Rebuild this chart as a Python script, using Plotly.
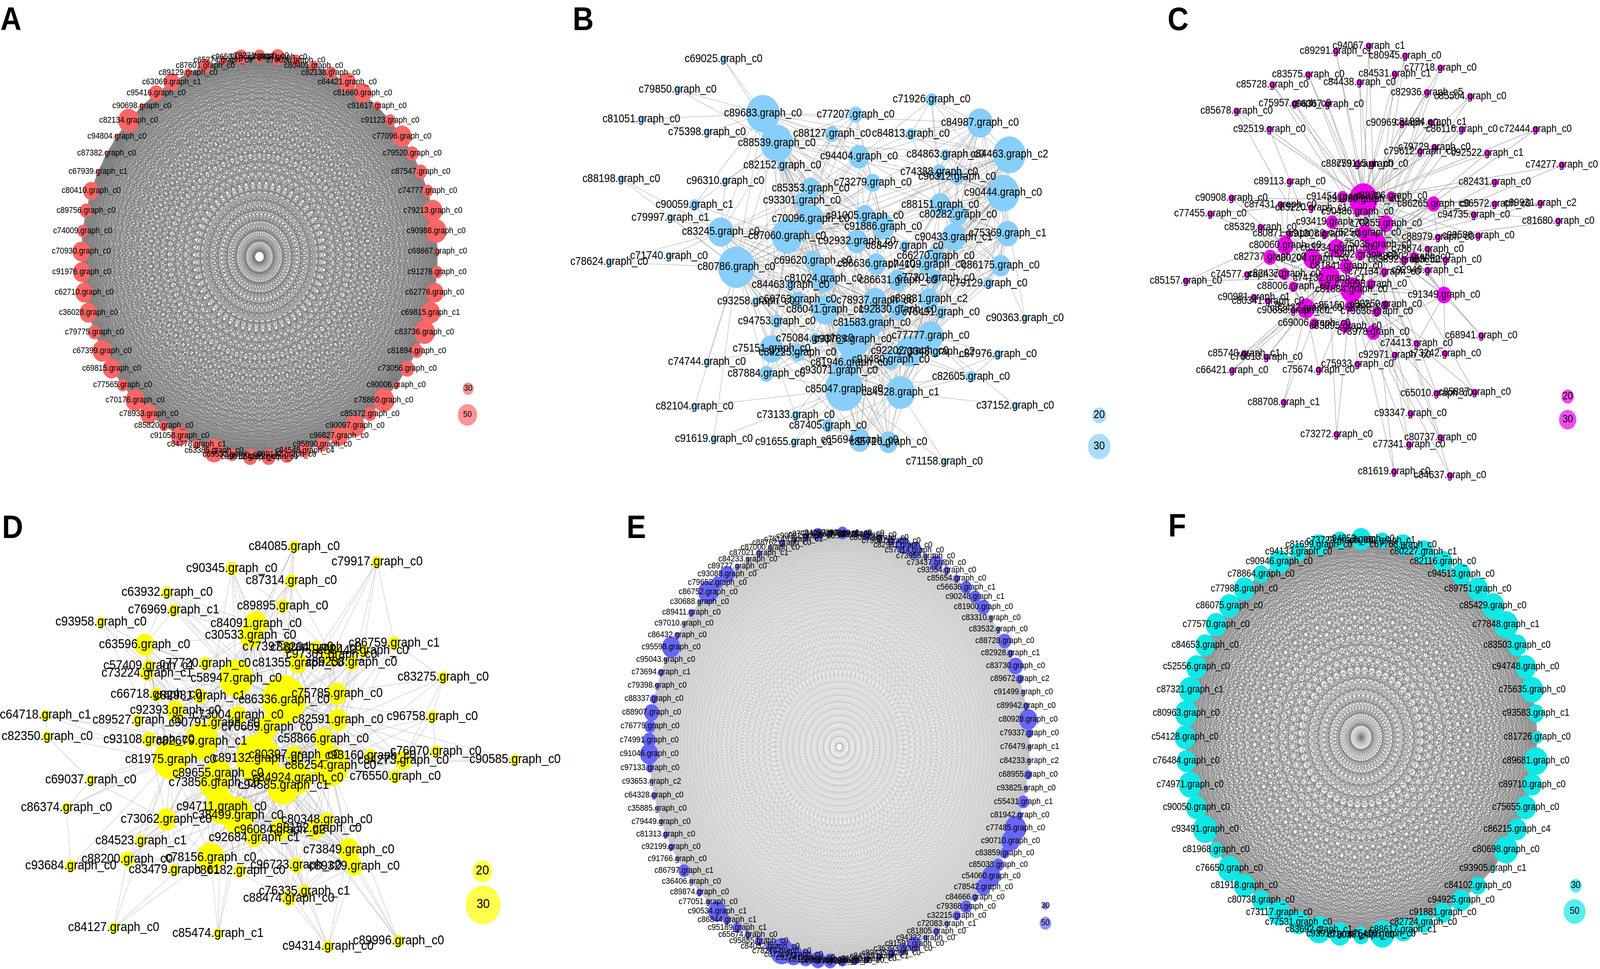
import math
import plotly.graph_objects as go

W, H = 4607, 2480
ZOOM = 1568.0

# ====================== DATA ======================
# Panel A: circular layout, clockwise from 12 o'clock
A_labels = ["c79271.graph_c0", "c73803.graph_c0", "c78026.graph_c0", "c80401.graph_c0", "c82138.graph_c0",
            "c64421.graph_c0", "c81660.graph_c0", "c91617.graph_c0", "c91123.graph_c0", "c77096.graph_c0",
            "c79520.graph_c0", "c87547.graph_c0", "c74777.graph_c0", "c79213.graph_c0", "c90988.graph_c0",
            "c68667.graph_c0", "c91276.graph_c0", "c62776.graph_c0", "c69815.graph_c1", "c83736.graph_c0",
            "c81894.graph_c0", "c73056.graph_c0", "c90006.graph_c0", "c78860.graph_c0", "c85372.graph_c0",
            "c90097.graph_c0", "c96827.graph_c0", "c95890.graph_c0", "c84548.graph_c4", "c89147.graph_c0",
            "c84201.graph_c0", "c89812.graph_c0", "c65532.graph_c0", "c63386.graph_c0", "c84778.graph_c1",
            "c91058.graph_c0", "c85820.graph_c0", "c78933.graph_c0", "c70176.graph_c0", "c77565.graph_c0",
            "c69815.graph_c0", "c67399.graph_c0", "c79775.graph_c0", "c36028.graph_c0", "c62710.graph_c0",
            "c91976.graph_c0", "c70930.graph_c0", "c74009.graph_c0", "c89756.graph_c0", "c80410.graph_c0",
            "c67939.graph_c1", "c87382.graph_c0", "c94804.graph_c0", "c82134.graph_c0", "c90698.graph_c0",
            "c95416.graph_c0", "c63069.graph_c1", "c89129.graph_c0", "c87601.graph_c0", "c65274.graph_c0",
            "c96508.graph_c0"]
A_degree = [32, 38, 29, 26, 31, 45, 46, 23, 30, 50, 34, 34, 30, 50, 54, 15, 30, 46, 50, 54,
            34, 38, 19, 54, 34, 50, 46, 34, 34, 38, 38, 38, 30, 54, 23, 46, 26, 46, 50, 30,
            46, 50, 34, 46, 46, 46, 46, 30, 34, 42, 15, 12, 15, 54, 15, 38, 42, 23, 34, 23, 36]

# Panel B: force layout (x, y)
B_labels = ["c69025.graph_c0", "c79850.graph_c0", "c81051.graph_c0", "c75398.graph_c0", "c89683.graph_c0",
            "c88539.graph_c0", "c77207.graph_c0", "c88127.graph_c0", "c84813.graph_c0", "c71926.graph_c0",
            "c84987.graph_c0", "c84463.graph_c2", "c84863.graph_c0", "c94404.graph_c0", "c82152.graph_c0",
            "c88198.graph_c0", "c96310.graph_c0", "c74388.graph_c0", "c96312.graph_c0", "c73279.graph_c0",
            "c85353.graph_c0", "c90444.graph_c0", "c90059.graph_c1", "c93301.graph_c0", "c88151.graph_c0",
            "c80282.graph_c0", "c79997.graph_c1", "c70096.graph_c0", "c91005.graph_c0", "c91886.graph_c0",
            "c83245.graph_c0", "c87060.graph_c0", "c92932.graph_c0", "c90433.graph_c1", "c75369.graph_c1",
            "c88497.graph_c0", "c71740.graph_c0", "c78624.graph_c0", "c80786.graph_c0", "c69620.graph_c0",
            "c86636.graph_c0", "c74109.graph_c0", "c66270.graph_c0", "c86175.graph_c0", "c81024.graph_c0",
            "c84463.graph_c0", "c86631.graph_c0", "c77201.graph_c0", "c79129.graph_c0", "c93258.graph_c0",
            "c66763.graph_c0", "c78937.graph_c0", "c89831.graph_c2", "c86041.graph_c1", "c92830.graph_c0",
            "c76491.graph_c0", "c90363.graph_c0", "c94753.graph_c0", "c81583.graph_c0", "c77777.graph_c0",
            "c75084.graph_c0", "c93789.graph_c0", "c75151.graph_c0", "c89225.graph_c0", "c92202.graph_c0",
            "c87976.graph_c0", "c73348.graph_c2", "c81946.graph_c0", "c91480.graph_c0", "c74744.graph_c0",
            "c87884.graph_c0", "c93071.graph_c0", "c82605.graph_c0", "c85047.graph_c0", "c84528.graph_c1",
            "c82104.graph_c0", "c37152.graph_c0", "c73133.graph_c0", "c87405.graph_c0", "c91619.graph_c0",
            "c91655.graph_c1", "c65694.graph_c0", "c85716.graph_c0", "c71158.graph_c0"]
B_x = [506, 373, 268, 458, 620, 660, 888, 820, 1048, 1108, 1248, 1333, 1148, 898, 676, 210, 511, 1130, 1182, 938,
       758, 1315, 422, 733, 1133, 1185, 352, 758, 915, 968, 498, 690, 892, 1172, 1328, 1030, 348, 175, 543, 765,
       948, 1095, 1120, 1308, 795, 700, 1010, 1120, 1273, 600, 720, 945, 1100, 800, 1010, 1135, 1378, 660, 935, 1105,
       770, 880, 645, 720, 1045, 1300, 1120, 870, 990, 458, 630, 840, 1222, 855, 1018, 422, 1350, 715, 808, 478,
       710, 900, 983, 1145]
B_y = [190, 288, 383, 425, 365, 460, 368, 430, 430, 320, 395, 497, 497, 503, 532, 575, 582, 553, 568, 587,
       605, 620, 658, 645, 658, 690, 700, 703, 693, 728, 745, 758, 775, 762, 750, 790, 822, 842, 858, 838,
       848, 850, 822, 853, 895, 915, 900, 893, 910, 968, 962, 965, 960, 995, 995, 1003, 1022, 1032, 1037, 1078,
       1087, 1090, 1120, 1132, 1128, 1138, 1130, 1165, 1155, 1163, 1200, 1190, 1210, 1250, 1260, 1305, 1303, 1333, 1367, 1410,
       1420, 1413, 1420, 1483]
B_degree = [11, 11, 11, 11, 43, 42, 20, 20, 15, 17, 34, 42, 15, 28, 15, 11, 11, 20, 20, 22,
            26, 42, 15, 20, 28, 26, 11, 34, 26, 30, 34, 40, 28, 32, 30, 15, 11, 11, 47, 24,
            26, 24, 24, 26, 32, 15, 26, 20, 15, 13, 20, 30, 26, 34, 26, 17, 11, 17, 32, 34,
            15, 44, 32, 22, 36, 13, 15, 28, 24, 11, 20, 24, 15, 49, 38, 11, 11, 13, 17, 11,
            11, 28, 26, 11]

# Panel C: force layout
C_labels = ["c94067.graph_c1", "c89291.graph_c1", "c80945.graph_c0", "c77718.graph_c0", "c83575.graph_c0",
            "c84531.graph_c1", "c85728.graph_c0", "c84438.graph_c0", "c82936.graph_c5", "c85504.graph_c0",
            "c75957.graph_c0", "c96367.graph_c0", "c85678.graph_c0", "c90969.graph_c0", "c81884.graph_c1",
            "c86116.graph_c0", "c72444.graph_c0", "c92519.graph_c0", "c79729.graph_c0", "c79612.graph_c0",
            "c92522.graph_c1", "c88759.graph_c0", "c79115.graph_c0", "c74277.graph_c0", "c89113.graph_c0",
            "c82431.graph_c0", "c90908.graph_c0", "c91454.graph_c0", "c91980.graph_c0", "c88706.graph_c0",
            "c87431.graph_c0", "c85220.graph_c1", "c86265.graph_c0", "c96572.graph_c0", "c89931.graph_c2",
            "c90486.graph_c0", "c77455.graph_c0", "c94735.graph_c0", "c81680.graph_c0", "c93419.graph_c0",
            "c70855.graph_c0", "c85329.graph_c0", "c80871.graph_c0", "c91308.graph_c0", "c75256.graph_c0",
            "c88979.graph_c0", "c98586.graph_c0", "c80060.graph_c0", "c75035.graph_c0", "c83234.graph_c0",
            "c78674.graph_c0", "c82737.graph_c0", "c80204.graph_c0", "c75302.graph_c0", "c83892.graph_c0",
            "c93652.graph_c0", "c80002.graph_c0", "c81841.graph_c0", "c92946.graph_c1", "c77134.graph_c0",
            "c74577.graph_c0", "c82437.graph_c0", "c74132.graph_c1", "c85157.graph_c0", "c88006.graph_c0",
            "c79098.graph_c0", "c81884.graph_c0", "c90981.graph_c1", "c80341.graph_c0", "c91349.graph_c0",
            "c82432.graph_c0", "c85150.graph_c0", "c80250.graph_c0", "c90658.graph_c0", "c79636.graph_c0",
            "c69006.graph_c0", "c83895.graph_c0", "c73978.graph_c0", "c68941.graph_c0", "c74413.graph_c0",
            "c85740.graph_c1", "c76813.graph_c0", "c92971.graph_c0", "c73242.graph_c0", "c75933.graph_c0",
            "c66421.graph_c0", "c75674.graph_c0", "c65010.graph_c0", "c85887.graph_c0", "c88708.graph_c1",
            "c93347.graph_c0", "c73272.graph_c0", "c80737.graph_c0", "c77341.graph_c0", "c81619.graph_c0",
            "c84637.graph_c0"]
C_x = [793, 683, 915, 1033, 590, 880, 470, 762, 988, 1133, 545, 655, 350, 905, 1000, 1105, 1352, 460, 1013, 965,
       1190, 755, 805, 1440, 528, 1215, 333, 705, 775, 868, 497, 600, 1010, 1215, 1368, 755, 262, 1145, 1428, 670,
       850, 430, 525, 645, 780, 1025, 1160, 513, 815, 685, 990, 462, 603, 765, 912, 1050, 945, 718, 990, 845,
       385, 510, 660, 180, 540, 800, 735, 408, 455, 1045, 583, 730, 850, 540, 820, 610, 715, 808, 1170, 953,
       375, 450, 880, 1048, 755, 335, 625, 1020, 1148, 508, 933, 685, 1033, 928, 878, 1065]
C_y = [148, 165, 180, 218, 240, 238, 272, 265, 297, 310, 333, 335, 357, 396, 393, 416, 416, 415, 473, 487,
       492, 527, 527, 530, 583, 585, 636, 632, 640, 630, 657, 668, 655, 655, 653, 680, 687, 690, 710, 713,
       718, 730, 750, 752, 748, 762, 757, 788, 785, 797, 800, 826, 830, 818, 835, 835, 825, 855, 868, 873,
       882, 880, 893, 902, 920, 912, 930, 955, 967, 947, 990, 983, 978, 997, 1000, 1038, 1048, 1067, 1078, 1103,
       1135, 1147, 1140, 1135, 1170, 1190, 1188, 1263, 1260, 1292, 1328, 1395, 1405, 1428, 1515, 1527]
C_degree = [7, 7, 7, 7, 7, 7, 7, 7, 7, 7, 7, 7, 7, 7, 7, 7, 7, 7, 7, 7,
            7, 7, 7, 7, 7, 7, 7, 16, 53, 13, 7, 7, 22, 7, 7, 10, 7, 7, 7, 19,
            25, 7, 7, 10, 25, 7, 7, 28, 40, 28, 7, 22, 31, 16, 10, 7, 13, 22, 7, 10,
            7, 16, 40, 7, 13, 13, 40, 7, 7, 25, 31, 16, 10, 7, 13, 13, 19, 22, 7, 7,
            7, 7, 7, 7, 7, 7, 7, 7, 7, 7, 7, 7, 7, 7, 7, 7]

# Panel D: force layout
D_labels = ["c84085.graph_c0", "c79917.graph_c0", "c90345.graph_c0", "c87314.graph_c0", "c63932.graph_c0",
            "c89895.graph_c0", "c76969.graph_c1", "c93958.graph_c0", "c84091.graph_c0", "c30533.graph_c0",
            "c63596.graph_c0", "c86759.graph_c1", "c77397.graph_c0", "c88204.graph_c0", "c97301.graph_c0",
            "c88440.graph_c0", "c57409.graph_c1", "c77720.graph_c0", "c81355.graph_c0", "c89238.graph_c0",
            "c73224.graph_c1", "c83275.graph_c0", "c58947.graph_c0", "c66718.graph_c0", "c82981.graph_c1",
            "c86336.graph_c0", "c75785.graph_c0", "c64718.graph_c1", "c92393.graph_c0", "c89527.graph_c0",
            "c90791.graph_c0", "c73004.graph_c0", "c76609.graph_c0", "c82591.graph_c0", "c96758.graph_c0",
            "c82350.graph_c0", "c93108.graph_c0", "c82679.graph_c1", "c58866.graph_c0", "c81975.graph_c0",
            "c89132.graph_c0", "c80397.graph_c0", "c86254.graph_c0", "c93160.graph_c0", "c76070.graph_c0",
            "c84273.graph_c0", "c90585.graph_c0", "c69037.graph_c0", "c89655.graph_c0", "c73856.graph_c0",
            "c84924.graph_c0", "c94585.graph_c1", "c76550.graph_c0", "c86374.graph_c0", "c94711.graph_c0",
            "c38499.graph_c0", "c73062.graph_c0", "c80348.graph_c0", "c92684.graph_c1", "c96084.graph_c2",
            "c88152.graph_c0", "c84523.graph_c1", "c73849.graph_c0", "c88200.graph_c0", "c78156.graph_c0",
            "c93684.graph_c0", "c83479.graph_c1", "c86182.graph_c0", "c96723.graph_c0", "c89329.graph_c0",
            "c76335.graph_c1", "c88474.graph_c0", "c84127.graph_c0", "c85474.graph_c1", "c94314.graph_c0",
            "c89996.graph_c0"]
D_x = [810, 1038, 638, 802, 460, 778, 478, 278, 705, 690, 398, 1085, 793, 870, 913, 1000, 410, 565, 820, 968,
       405, 1220, 650, 430, 550, 782, 928, 125, 483, 380, 590, 655, 735, 930, 1190, 130, 410, 555, 890, 470,
       710, 810, 910, 1020, 1200, 1110, 1418, 250, 600, 590, 820, 780, 1088, 183, 610, 655, 458, 900, 700, 770,
       870, 388, 960, 350, 580, 195, 480, 660, 815, 975, 838, 795, 313, 600, 903, 1097]
D_y = [190, 240, 262, 302, 340, 384, 397, 437, 442, 480, 510, 505, 518, 520, 543, 530, 580, 572, 570, 568,
       603, 617, 620, 673, 678, 690, 670, 740, 725, 757, 765, 740, 780, 755, 745, 810, 820, 825, 818, 885,
       882, 870, 905, 872, 858, 888, 885, 952, 930, 960, 945, 970, 940, 1042, 1040, 1068, 1080, 1082, 1140, 1115,
       1110, 1150, 1180, 1210, 1205, 1232, 1245, 1248, 1230, 1233, 1315, 1338, 1433, 1452, 1495, 1477]
D_degree = [14, 14, 15, 15, 14, 15, 14, 13, 22, 22, 20, 15, 15, 15, 20, 15, 15, 15, 19, 16,
            16, 14, 29, 15, 16, 36, 20, 13, 19, 14, 16, 18, 21, 20, 14, 13, 16, 29, 20, 30,
            36, 18, 31, 15, 14, 18, 13, 13, 25, 27, 26, 29, 15, 13, 27, 29, 20, 16, 18, 20,
            19, 14, 21, 16, 25, 14, 14, 15, 16, 18, 15, 16, 13, 13, 14, 14]

# Panel E: circular layout, counter-clockwise from 3 o'clock
E_labels = ["c76479.graph_c1", "c79337.graph_c0", "c80928.graph_c0", "c89942.graph_c0", "c91499.graph_c0",
            "c89672.graph_c2", "c83730.graph_c0", "c82928.graph_c1", "c88728.graph_c0", "c83532.graph_c0",
            "c83310.graph_c0", "c81900.graph_c0", "c90248.graph_c1", "c56636.graph_c1", "c85654.graph_c0",
            "c93554.graph_c0", "c73437.graph_c0", "c73955.graph_c0", "c57314.graph_c0", "c82931.graph_c0",
            "c79697.graph_c0", "c80673.graph_c0", "c83154.graph_c0", "c86519.graph_c0", "c80327.graph_c0",
            "c84257.graph_c1", "c87734.graph_c0", "c90082.graph_c0", "c76149.graph_c1", "c88762.graph_c0",
            "c87000.graph_c0", "c87021.graph_c1", "c84233.graph_c0", "c89777.graph_c0", "c93088.graph_c0",
            "c79652.graph_c0", "c86752.graph_c0", "c30688.graph_c0", "c89411.graph_c0", "c97010.graph_c0",
            "c86432.graph_c0", "c95598.graph_c0", "c95043.graph_c0", "c73694.graph_c1", "c79398.graph_c0",
            "c88337.graph_c0", "c88907.graph_c0", "c76779.graph_c0", "c74991.graph_c0", "c91046.graph_c0",
            "c97133.graph_c0", "c93653.graph_c2", "c64328.graph_c0", "c35885.graph_c0", "c79449.graph_c0",
            "c81313.graph_c0", "c92199.graph_c0", "c91766.graph_c0", "c86797.graph_c1", "c36406.graph_c0",
            "c89874.graph_c0", "c77051.graph_c0", "c90534.graph_c1", "c86844.graph_c1", "c95189.graph_c1",
            "c65674.graph_c0", "c95885.graph_c0", "c84032.graph_c0", "c78275.graph_c0", "c87219.graph_c0",
            "c92741.graph_c0", "c81560.graph_c0", "c89347.graph_c0", "c85563.graph_c0", "c82046.graph_c0",
            "c91350.graph_c0", "c84129.graph_c1", "c89435.graph_c0", "c36393.graph_c0", "c91591.graph_c0",
            "c94322.graph_c0", "c81805.graph_c0", "c72083.graph_c1", "c32215.graph_c0", "c79368.graph_c0",
            "c84666.graph_c0", "c78542.graph_c0", "c54060.graph_c0", "c85038.graph_c0", "c83859.graph_c0",
            "c90710.graph_c0", "c77485.graph_c0", "c81942.graph_c0", "c55431.graph_c1", "c93825.graph_c0",
            "c68955.graph_c0", "c84233.graph_c2"]
E_degree = [18, 36, 77, 29, 18, 36, 63, 29, 56, 22, 18, 56, 49, 49, 31, 31, 56, 22, 63, 63,
            36, 29, 42, 29, 49, 29, 49, 29, 22, 29, 18, 26, 18, 22, 63, 49, 83, 18, 29, 15,
            26, 77, 15, 29, 22, 36, 63, 49, 56, 77, 36, 15, 26, 15, 22, 26, 29, 18, 49, 15,
            29, 22, 77, 36, 42, 29, 36, 42, 97, 77, 63, 63, 56, 42, 36, 29, 29, 36, 42, 56,
            22, 29, 22, 36, 49, 29, 63, 77, 49, 42, 77, 90, 29, 49, 18, 36, 18]

# Panel F: circular layout, clockwise from 12 o'clock
F_labels = ["c94853.graph_c0", "c80911.graph_c1", "c67768.graph_c0", "c80227.graph_c1", "c82116.graph_c0",
            "c94513.graph_c0", "c89751.graph_c0", "c85429.graph_c0", "c77848.graph_c1", "c83503.graph_c0",
            "c94748.graph_c0", "c75635.graph_c0", "c93583.graph_c1", "c81726.graph_c0", "c89681.graph_c0",
            "c89710.graph_c0", "c75655.graph_c0", "c86215.graph_c4", "c80698.graph_c0", "c93905.graph_c1",
            "c84102.graph_c0", "c94925.graph_c0", "c91881.graph_c0", "c82724.graph_c0", "c88617.graph_c1",
            "c75416.graph_c0", "c78036.graph_c0", "c93918.graph_c0", "c83692.graph_c1", "c77531.graph_c0",
            "c73117.graph_c0", "c80738.graph_c0", "c81918.graph_c0", "c76650.graph_c0", "c81968.graph_c0",
            "c93491.graph_c0", "c90050.graph_c0", "c74971.graph_c0", "c76484.graph_c0", "c54128.graph_c0",
            "c80963.graph_c0", "c87321.graph_c1", "c52556.graph_c0", "c84653.graph_c0", "c77570.graph_c0",
            "c86075.graph_c0", "c77988.graph_c0", "c78864.graph_c0", "c90946.graph_c0", "c94133.graph_c0",
            "c81699.graph_c0", "c73729.graph_c0"]
F_degree = [46, 35, 44, 48, 45, 45, 48, 52, 55, 45, 48, 52, 38, 28, 55, 45, 48, 45, 55, 15,
            38, 45, 42, 42, 48, 55, 38, 48, 55, 48, 52, 42, 48, 52, 35, 55, 48, 52, 45, 48,
            52, 52, 48, 45, 48, 48, 48, 38, 48, 38, 44, 38]

# size-legend values per panel
A_legend = [30, 50]
B_legend = [20, 30]
C_legend = [20, 30]
D_legend = [20, 30]
E_legend = [30, 50]
F_legend = [30, 50]

# ====================== STYLE / LAYOUT ======================
PANELS = [
    dict(key="A", kind="circle", labels=A_labels, deg=A_degree, legend=A_legend,
         dom=(0, 0, 1450, 1250), center=(747, 657), radius=513, start=90, direction=-1,
         color="#FF6666", font=22, dref=(30, 32), slope=1.175,
         ecolor="rgba(120,120,120,0.85)", ewidth=1.1,
         legend_px=[(1348, 995), (1346, 1062)], letter=(0, 0)),
    dict(key="B", kind="force", labels=B_labels, xs=B_x, ys=B_y, deg=B_degree, legend=B_legend,
         zoom=(1580, 0, 1560, 1250), dom=(1580, 0, 1670, 1250),
         color="#87CEFA", font=29, dref=(20, 41), slope=2.4,
         ecolor="rgba(140,140,140,0.38)", ewidth=2.2, kfrac=0.75, kbase=8, kmin=2,
         legend_px=[(3165, 1063), (3165, 1143)], letter=(1648, 0)),
    dict(key="C", kind="force", labels=C_labels, xs=C_x, ys=C_y, deg=C_degree, legend=C_legend,
         zoom=(3260, 0, 1347, 1250), dom=(3250, 0, 1357, 1250),
         color="#EE00EE", font=27, dref=(20, 36), slope=1.4,
         ecolor="rgba(165,165,165,0.9)", ewidth=1.6, kfrac=0.35, kbase=3, kmin=2,
         legend_px=[(4514, 1015), (4514, 1074)], letter=(3361, 0)),
    dict(key="D", kind="force", labels=D_labels, xs=D_x, ys=D_y, deg=D_degree, legend=D_legend,
         zoom=(0, 1250, 1640, 1230), dom=(0, 1250, 1640, 1230),
         color="#FFFF00", font=34, dref=(20, 57), slope=4.3,
         ecolor="rgba(165,165,165,0.33)", ewidth=2.5, kfrac=1.5, kbase=10, kmin=3,
         legend_px=[(1389, 2230), (1391, 2316)], letter=(5, 1300)),
    dict(key="E", kind="circle", labels=E_labels, deg=E_degree, legend=E_legend,
         dom=(1640, 1250, 1500, 1230), center=(2417, 1912), radius=548, start=0, direction=1,
         color="#6666FF", font=22, dref=(30, 19), slope=0.725,
         ecolor="rgba(150,150,150,0.22)", ewidth=0.7,
         legend_px=[(3010, 2319), (3010, 2363)], letter=(1803, 1300)),
    dict(key="F", kind="circle", labels=F_labels, deg=F_degree, legend=F_legend,
         dom=(3140, 1250, 1467, 1230), center=(3919, 1887), radius=507, start=90, direction=-1,
         color="#10E8E8", font=25, dref=(30, 35), slope=1.4,
         ecolor="rgba(125,125,125,0.85)", ewidth=1.1,
         legend_px=[(4537, 2267), (4534, 2333)], letter=(3363, 1296)),
]

FONT = "Liberation Sans, Arial, sans-serif"


def diameter(p, v):
    v0, d0 = p["dref"]
    return max(4.0, d0 + (v - v0) * p["slope"])


def knn_edges(px, py, deg, kfrac, kbase, kmin):
    n = len(px)
    edges = set()
    for i in range(n):
        k = max(kmin, int(round((deg[i] - kbase) * kfrac)))
        scored = []
        for j in range(n):
            if j == i:
                continue
            d = math.hypot(px[i] - px[j], py[i] - py[j])
            scored.append((deg[j] / (d + 60.0), j))
        scored.sort(reverse=True)
        for _, j in scored[:k]:
            edges.add((min(i, j), max(i, j)))
    return sorted(edges)


fig = go.Figure()
layout_axes = {}
annotations = []

for idx, p in enumerate(PANELS):
    n = idx + 1
    xref = "x" if n == 1 else f"x{n}"
    yref = "y" if n == 1 else f"y{n}"
    dx, dy, dw, dh = p["dom"]

    if p["kind"] == "circle":
        cx, cy = p["center"]
        r = p["radius"]
        ox, sx, oy, sy = cx, r, cy, -r
        N = len(p["labels"])
        xs, ys = [], []
        for i in range(N):
            a = math.radians(p["start"] + p["direction"] * i * 360.0 / N)
            xs.append(math.cos(a))
            ys.append(math.sin(a))
        ex, ey = [], []
        for i in range(N):
            for j in range(i + 1, N):
                ex += [xs[i], xs[j], None]
                ey += [ys[i], ys[j], None]
    else:
        zx, zy, zw, zh = p["zoom"]
        ox, sx, oy, sy = zx, zw / ZOOM, zy, zh / ZOOM
        xs, ys = p["xs"], p["ys"]
        pxs = [ox + x * sx for x in xs]
        pys = [oy + y * sy for y in ys]
        edges = knn_edges(pxs, pys, p["deg"], p["kfrac"], p["kbase"], p["kmin"])
        ex, ey = [], []
        for i, j in edges:
            ex += [xs[i], xs[j], None]
            ey += [ys[i], ys[j], None]

    xr = [(dx - ox) / sx, (dx + dw - ox) / sx]
    yr = [(dy + dh - oy) / sy, (dy - oy) / sy]
    layout_axes["xaxis" if n == 1 else f"xaxis{n}"] = dict(
        domain=[dx / W, (dx + dw) / W], range=xr, visible=False, fixedrange=True,
        anchor=yref, showgrid=False, zeroline=False)
    layout_axes["yaxis" if n == 1 else f"yaxis{n}"] = dict(
        domain=[1 - (dy + dh) / H, 1 - dy / H], range=yr, visible=False, fixedrange=True,
        anchor=xref, showgrid=False, zeroline=False)

    # edges
    fig.add_trace(go.Scatter(x=ex, y=ey, mode="lines", xaxis=xref, yaxis=yref,
                             line=dict(color=p["ecolor"], width=p["ewidth"]),
                             hoverinfo="skip", showlegend=False))
    # nodes with labels
    fig.add_trace(go.Scatter(x=xs, y=ys, mode="markers+text", xaxis=xref, yaxis=yref,
                             text=p["labels"], textposition="middle center",
                             textfont=dict(family=FONT, size=p["font"], color="black"),
                             marker=dict(color=p["color"], size=[diameter(p, v) for v in p["deg"]],
                                         line=dict(width=0), opacity=1),
                             cliponaxis=False, hoverinfo="text", showlegend=False))
    # size legend
    lx = [(q[0] - ox) / sx for q in p["legend_px"]]
    ly = [(q[1] - oy) / sy for q in p["legend_px"]]
    fig.add_trace(go.Scatter(x=lx, y=ly, mode="markers+text", xaxis=xref, yaxis=yref,
                             text=[str(v) for v in p["legend"]], textposition="middle center",
                             textfont=dict(family=FONT, size=p["font"], color="black"),
                             marker=dict(color=p["color"], size=[diameter(p, v) for v in p["legend"]],
                                         line=dict(width=0)),
                             cliponaxis=False, hoverinfo="skip", showlegend=False))
    # panel letter
    lxp, lyp = p["letter"]
    annotations.append(dict(text=p["key"], x=lxp / W, y=1 - lyp / H, xref="paper", yref="paper",
                            xanchor="left", yanchor="top", showarrow=False, borderpad=0,
                            font=dict(family=FONT, size=84, color="black", weight="bold")))

fig.update_layout(width=W, height=H, margin=dict(l=0, r=0, t=0, b=0, pad=0),
                  paper_bgcolor="white", plot_bgcolor="white",
                  font=dict(family=FONT), showlegend=False, annotations=annotations,
                  **layout_axes)

# Fit the fixed-size 4607x2480 figure exactly into whatever viewport the browser provides.
FIT_JS = """
(function(){
  var gd = document.getElementById('{plot_id}');
  document.documentElement.style.margin = '0';
  document.documentElement.style.overflow = 'hidden';
  document.body.style.margin = '0';
  document.body.style.overflow = 'hidden';
  var sx = window.innerWidth / 4607, sy = window.innerHeight / 2480;
  gd.style.transformOrigin = '0 0';
  gd.style.transform = 'scale(' + sx + ',' + sy + ')';
})();
"""

fig.write_html("out.html", config={"displayModeBar": False, "responsive": False},
               post_script=FIT_JS)
